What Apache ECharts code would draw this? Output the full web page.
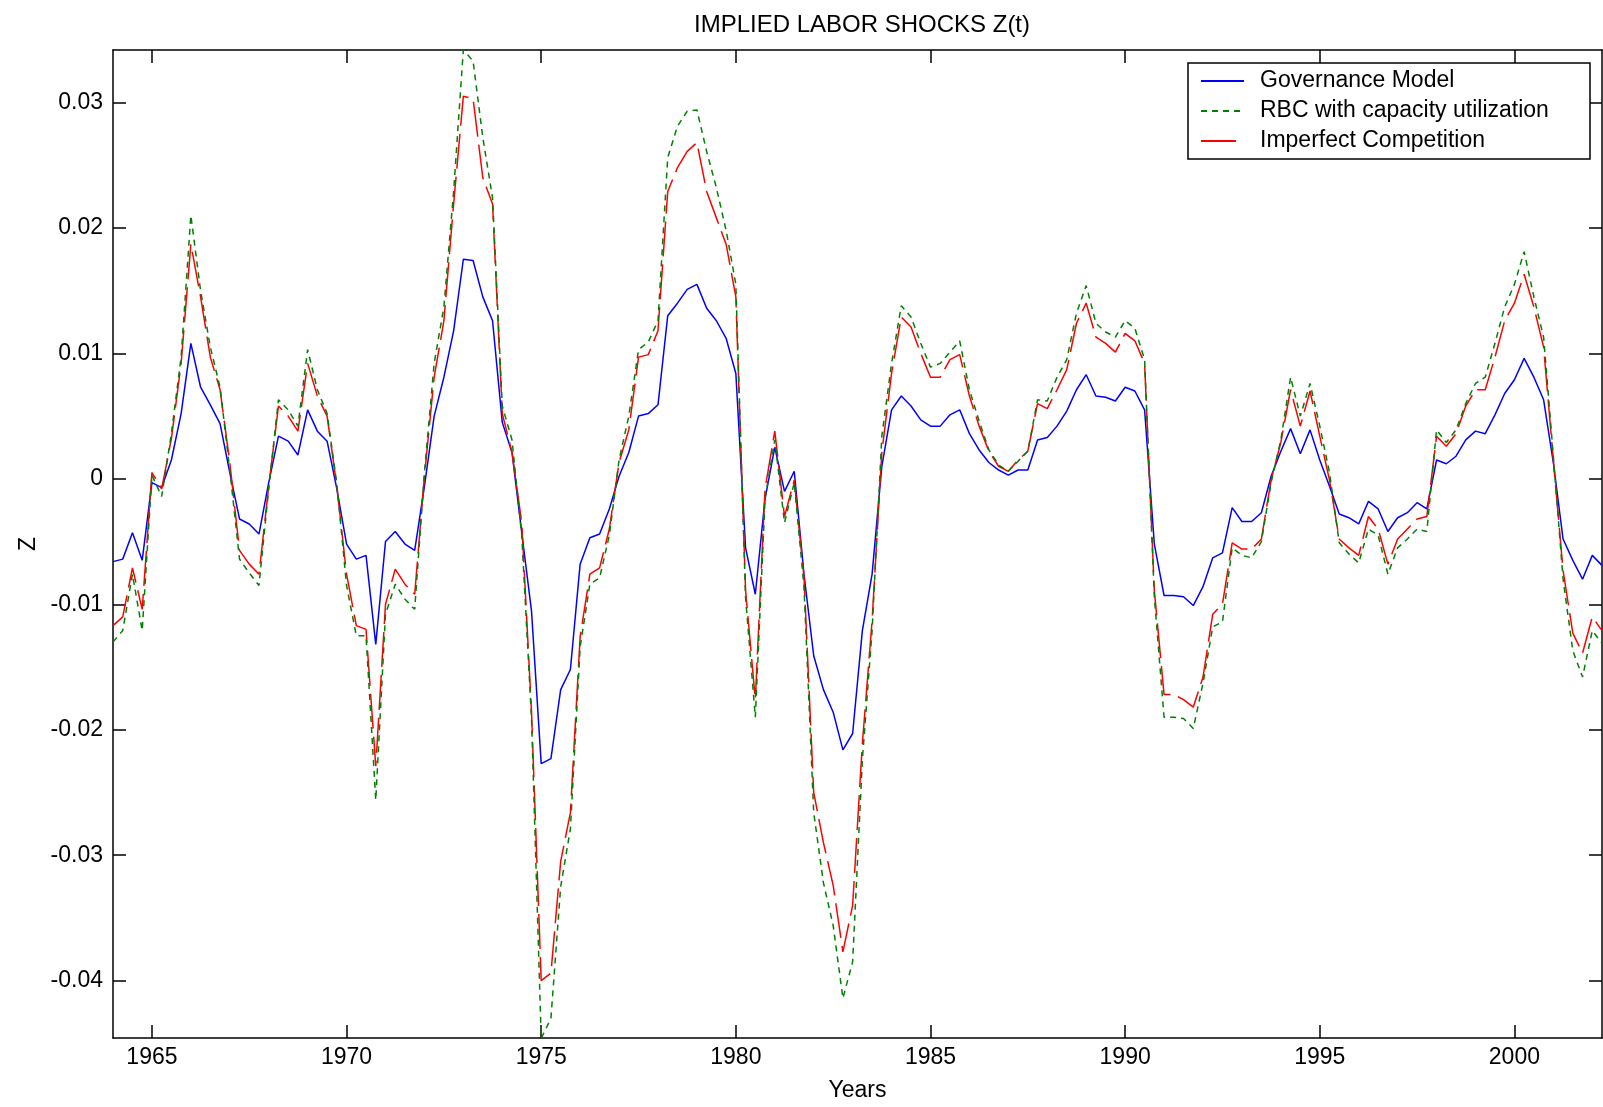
<!DOCTYPE html>
<html>
<head>
<meta charset="utf-8">
<script src="https://cdn.jsdelivr.net/npm/echarts@6/dist/echarts.min.js"></script>
<style>
html,body{margin:0;padding:0;background:#fff;}
#chart{width:1603px;height:1107px;}
</style>
</head>
<body>
<div id="chart"></div>
<script>
// Quarterly series, first observation 1964 Q1
const startYear = 1964;
const seriesNames = ['Governance Model', 'RBC with capacity utilization', 'Imperfect Competition'];

const governance = [
-0.0066,-0.0064,-0.0043,-0.0065,-0.0003,-0.0007,0.0015,0.0052,0.0108,0.0073,
0.0059,0.0044,0.0005,-0.0032,-0.0036,-0.0044,-0.0003,0.0034,0.0030,0.0019,
0.0055,0.0038,0.0030,-0.0008,-0.0052,-0.0064,-0.0061,-0.0132,-0.0050,-0.0042,
-0.0052,-0.0057,-0.0006,0.0050,0.0081,0.0118,0.0175,0.0174,0.0145,0.0126,
0.0045,0.0021,-0.0043,-0.0105,-0.0227,-0.0223,-0.0168,-0.0152,-0.0068,-0.0047,
-0.0044,-0.0024,0.0002,0.0021,0.0050,0.0052,0.0059,0.0130,0.0140,0.0151,
0.0155,0.0136,0.0126,0.0112,0.0084,-0.0055,-0.0092,-0.0016,0.0025,-0.0010,
0.0006,-0.0076,-0.0141,-0.0168,-0.0186,-0.0216,-0.0203,-0.0121,-0.0076,0.0010,
0.0055,0.0066,0.0058,0.0047,0.0042,0.0042,0.0051,0.0055,0.0036,0.0023,
0.0013,0.0007,0.0003,0.0007,0.0007,0.0031,0.0033,0.0042,0.0054,0.0071,
0.0083,0.0066,0.0065,0.0062,0.0073,0.0070,0.0055,-0.0052,-0.0093,-0.0093,
-0.0094,-0.0101,-0.0086,-0.0063,-0.0059,-0.0023,-0.0034,-0.0034,-0.0027,0.0002,
0.0022,0.0040,0.0020,0.0039,0.0015,-0.0006,-0.0028,-0.0031,-0.0036,-0.0018,
-0.0024,-0.0042,-0.0031,-0.0027,-0.0019,-0.0024,0.0015,0.0012,0.0018,0.0031,
0.0038,0.0036,0.0051,0.0068,0.0079,0.0096,0.0081,0.0063,0.0013,-0.0048,
-0.0065,-0.0080,-0.0061,-0.0069
];

const rbc = [
-0.0130,-0.0121,-0.0076,-0.0121,0.0003,-0.0014,0.0036,0.0097,0.0210,0.0150,
0.0105,0.0073,0.0007,-0.0064,-0.0075,-0.0085,-0.0008,0.0063,0.0055,0.0042,
0.0103,0.0071,0.0052,-0.0004,-0.0085,-0.0125,-0.0125,-0.0256,-0.0108,-0.0084,
-0.0096,-0.0104,0.0005,0.0092,0.0137,0.0229,0.0342,0.0333,0.0272,0.0224,
0.0058,0.0031,-0.0045,-0.0190,-0.0446,-0.0430,-0.0325,-0.0279,-0.0134,-0.0084,
-0.0079,-0.0045,0.0015,0.0050,0.0103,0.0109,0.0126,0.0256,0.0281,0.0293,
0.0294,0.0261,0.0232,0.0198,0.0155,-0.0095,-0.0190,-0.0016,0.0031,-0.0035,
-0.0003,-0.0086,-0.0266,-0.0322,-0.0356,-0.0414,-0.0385,-0.0224,-0.0121,0.0034,
0.0092,0.0138,0.0129,0.0108,0.0089,0.0092,0.0101,0.0110,0.0071,0.0046,
0.0023,0.0011,0.0006,0.0014,0.0022,0.0063,0.0062,0.0081,0.0095,0.0132,
0.0154,0.0124,0.0117,0.0113,0.0126,0.0120,0.0095,-0.0094,-0.0190,-0.0190,
-0.0191,-0.0199,-0.0163,-0.0118,-0.0114,-0.0055,-0.0061,-0.0063,-0.0050,-0.0003,
0.0031,0.0081,0.0050,0.0076,0.0042,0.0005,-0.0051,-0.0060,-0.0067,-0.0040,
-0.0045,-0.0076,-0.0055,-0.0048,-0.0040,-0.0042,0.0039,0.0029,0.0039,0.0060,
0.0076,0.0081,0.0108,0.0137,0.0155,0.0181,0.0145,0.0113,0.0018,-0.0080,
-0.0137,-0.0158,-0.0121,-0.0131
];

const imperfect = [
-0.0117,-0.0110,-0.0071,-0.0104,0.0005,-0.0008,0.0032,0.0092,0.0187,0.0145,
0.0097,0.0071,0.0013,-0.0057,-0.0068,-0.0076,-0.0006,0.0058,0.0050,0.0038,
0.0092,0.0066,0.0050,-0.0006,-0.0076,-0.0117,-0.0120,-0.0229,-0.0100,-0.0072,
-0.0084,-0.0092,0.0002,0.0081,0.0126,0.0219,0.0305,0.0303,0.0240,0.0219,
0.0052,0.0021,-0.0035,-0.0185,-0.0400,-0.0394,-0.0305,-0.0266,-0.0126,-0.0076,
-0.0071,-0.0040,0.0013,0.0039,0.0097,0.0099,0.0118,0.0229,0.0248,0.0261,
0.0268,0.0229,0.0208,0.0187,0.0145,-0.0089,-0.0176,-0.0008,0.0038,-0.0030,
-0.0001,-0.0078,-0.0250,-0.0290,-0.0324,-0.0377,-0.0340,-0.0211,-0.0113,0.0021,
0.0084,0.0129,0.0121,0.0100,0.0081,0.0081,0.0095,0.0099,0.0066,0.0042,
0.0022,0.0010,0.0006,0.0015,0.0022,0.0060,0.0056,0.0071,0.0087,0.0124,
0.0140,0.0113,0.0108,0.0101,0.0116,0.0110,0.0092,-0.0089,-0.0172,-0.0172,
-0.0176,-0.0182,-0.0158,-0.0108,-0.0100,-0.0051,-0.0056,-0.0056,-0.0048,-0.0001,
0.0029,0.0071,0.0042,0.0070,0.0034,-0.0001,-0.0048,-0.0055,-0.0061,-0.0030,
-0.0040,-0.0068,-0.0048,-0.0040,-0.0032,-0.0030,0.0034,0.0026,0.0036,0.0058,
0.0071,0.0071,0.0097,0.0126,0.0140,0.0163,0.0137,0.0105,0.0015,-0.0073,
-0.0123,-0.0139,-0.0110,-0.0121
];

const xTickValues = [1965, 1970, 1975, 1980, 1985, 1990, 1995, 2000];
const yTickValues = [-0.04, -0.03, -0.02, -0.01, 0, 0.01, 0.02, 0.03];

// time index (quarters)
const dates = governance.map((_, i) => startYear + i / 4);
const pairs = arr => arr.map((v, i) => [dates[i], v]);

const FONT = "'Liberation Sans', Arial, Helvetica, sans-serif";
const AXIS_COLOR = '#000';
const X_MIN = 1964, X_MAX = 2002.25;
const Y_MIN = -0.04457, Y_MAX = 0.03418;

const chart = echarts.init(document.getElementById('chart'), null, {renderer: 'canvas'});

const yFmt = v => { const r = Math.round(v * 100) / 100; return r === 0 ? '0' : String(r); };
const xFmt = v => String(Math.round(v));

const baseX = {
  type: 'value', min: X_MIN, max: X_MAX,
  axisLine: {show: true, onZero: false, lineStyle: {color: AXIS_COLOR, width: 1.5}},
  axisTick: {show: true, inside: true, length: 13, customValues: xTickValues, lineStyle: {color: AXIS_COLOR, width: 1.5}},
  splitLine: {show: false}
};
const baseY = {
  type: 'value', min: Y_MIN, max: Y_MAX,
  axisLine: {show: true, onZero: false, lineStyle: {color: AXIS_COLOR, width: 1.5}},
  axisTick: {show: true, inside: true, length: 13, customValues: yTickValues, lineStyle: {color: AXIS_COLOR, width: 1.5}},
  splitLine: {show: false}
};

const option = {
  animation: false,
  backgroundColor: '#ffffff',
  title: {
    text: 'IMPLIED LABOR SHOCKS Z(t)',
    left: 857, top: 8, textAlign: 'center',
    textStyle: {fontFamily: FONT, fontSize: 24, fontWeight: 'normal', color: '#000'}
  },
  grid: {left: 113, top: 50, width: 1489, height: 993, containLabel: false},
  xAxis: [
    Object.assign({}, baseX, {
      position: 'bottom',
      name: 'Years', nameLocation: 'middle', nameGap: 41,
      nameTextStyle: {fontFamily: FONT, fontSize: 23, color: '#000'},
      axisLabel: {show: true, customValues: xTickValues, margin: 8, formatter: xFmt, fontFamily: FONT, fontSize: 23, color: '#000'}
    }),
    Object.assign({}, baseX, {position: 'top', axisLabel: {show: false}})
  ],
  yAxis: [
    Object.assign({}, baseY, {
      position: 'left',
      name: 'Z', nameLocation: 'middle', nameGap: 72, nameRotate: 90,
      nameTextStyle: {fontFamily: FONT, fontSize: 23, color: '#000'},
      axisLabel: {show: true, customValues: yTickValues, margin: 10, formatter: yFmt, fontFamily: FONT, fontSize: 23, color: '#000'}
    }),
    Object.assign({}, baseY, {position: 'right', axisLabel: {show: false}})
  ],
  legend: {
    orient: 'vertical', left: 1200, top: 66, padding: 0, itemGap: 0,
    itemWidth: 43, itemHeight: 20, z: 6,
    itemStyle: {opacity: 0},
    data: seriesNames,
    textStyle: {fontFamily: FONT, fontSize: 23, color: '#000', lineHeight: 30, padding: [0, 0, 0, 11]}
  },
  graphic: [{
    type: 'rect', z: 5,
    shape: {x: 1188, y: 63, width: 402, height: 96},
    style: {fill: '#fff', stroke: '#000', lineWidth: 1.5}
  }],
  series: [
    {name: seriesNames[0], type: 'line', data: pairs(governance), showSymbol: false, symbol: 'none',
     lineStyle: {color: '#0000ff', width: 1.5}, itemStyle: {color: '#0000ff'}, z: 2},
    {name: seriesNames[1], type: 'line', data: pairs(rbc), showSymbol: false, symbol: 'none',
     lineStyle: {color: '#008000', width: 1.5, type: [6, 5]}, itemStyle: {color: '#008000'}, z: 3},
    {name: seriesNames[2], type: 'line', data: pairs(imperfect), showSymbol: false, symbol: 'none',
     lineStyle: {color: '#ff0000', width: 1.5, type: [35, 8]}, itemStyle: {color: '#ff0000'}, z: 2}
  ]
};
chart.setOption(option);
</script>
</body>
</html>
